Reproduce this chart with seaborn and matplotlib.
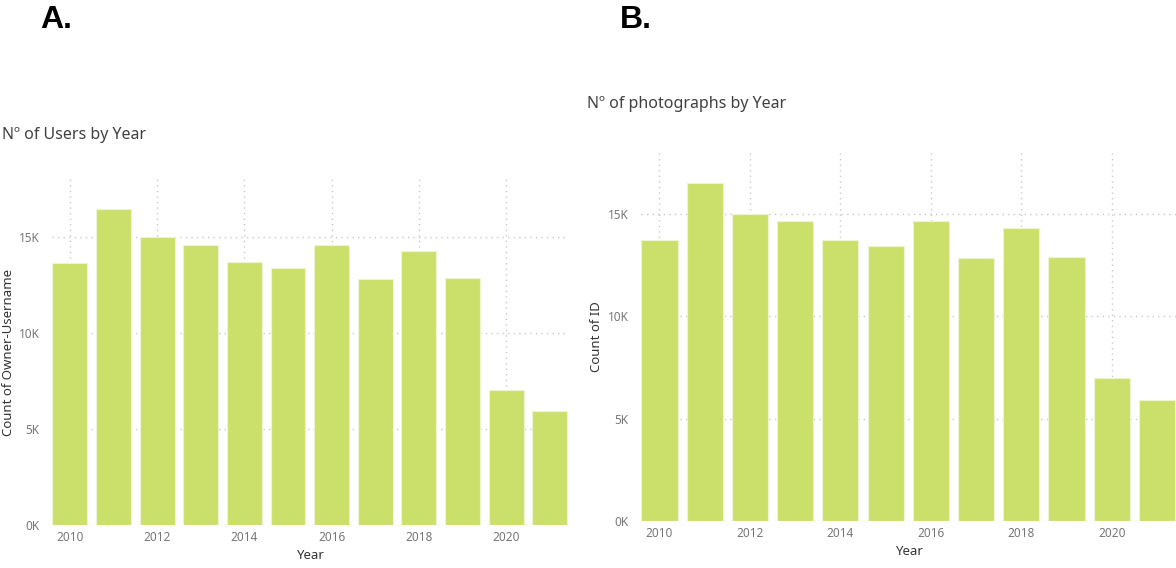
import pandas as pd
import matplotlib.pyplot as plt
import seaborn as sns
from matplotlib.ticker import FuncFormatter

# data
years = [2010, 2011, 2012, 2013, 2014, 2015, 2016, 2017, 2018, 2019, 2020, 2021]
users = [13650, 16450, 15000, 14580, 13700, 13390, 14580, 12810, 14270, 12860, 7030, 5940]
photos = [13690, 16470, 15000, 14620, 13730, 13400, 14620, 12840, 14310, 12900, 7000, 5920]

bar_color = "#CBE06A"
grid_color = "#C8C8C8"
tick_color = "#777777"
label_color = "#333333"

sns.set_theme(style="white")
plt.rcParams["font.family"] = ["Noto Sans", "DejaVu Sans"]

fig = plt.figure(figsize=(11.76, 5.68), dpi=100)

panels = [
    ([0.0442, 0.0757, 0.4388, 0.609], users, "Count of Owner-Username", -0.071, "Nº of Users by Year",
     (0.0017, 0.762), "A.", (0.034, 0.965)),
    ([0.545, 0.0827, 0.455, 0.6496], photos, "Count of ID", -0.071, "Nº of photographs by Year",
     (0.499, 0.817), "B.", (0.527, 0.965)),
]

for rect, vals, ylab, ylab_x, title, tpos, letter, lpos in panels:
    ax = fig.add_axes(rect)
    df = pd.DataFrame({"Year": years, "Count": vals})
    sns.barplot(data=df, x="Year", y="Count", native_scale=True, width=0.8,
                color=bar_color, saturation=1, edgecolor="#EEF4D2", linewidth=0.8,
                ax=ax, zorder=3)
    ax.set_xlim(2009.59, 2021.42)
    ax.set_ylim(0, 18000)
    ax.set_xticks([2010, 2012, 2014, 2016, 2018, 2020])
    ax.set_xticklabels([str(y) for y in [2010, 2012, 2014, 2016, 2018, 2020]])
    ax.set_yticks([0, 5000, 10000, 15000])
    ax.yaxis.set_major_formatter(FuncFormatter(lambda v, p: f"{v/1000:.0f}K"))
    ax.grid(True, axis="both", linestyle=(0, (1, 3)), color=grid_color, linewidth=1, zorder=0)
    ax.set_axisbelow(True)
    for s in ax.spines.values():
        s.set_visible(False)
    ax.tick_params(axis="both", length=0, labelsize=8.5, labelcolor=tick_color, pad=9)
    ax.tick_params(axis="x", pad=4)
    ax.set_xlabel("Year", fontsize=9.5, color=label_color, labelpad=4)
    ax.set_ylabel(ylab, fontsize=9.5, color=label_color)
    ax.yaxis.set_label_coords(ylab_x, 0.5)
    fig.text(tpos[0], tpos[1], title, fontsize=11.5, color="#404040", va="center", ha="left")
    fig.text(lpos[0], lpos[1], letter, fontsize=23, fontweight="bold", color="black",
             va="center", ha="left", family=["Liberation Sans", "DejaVu Sans"])

fig.savefig("out.png", dpi=100)
